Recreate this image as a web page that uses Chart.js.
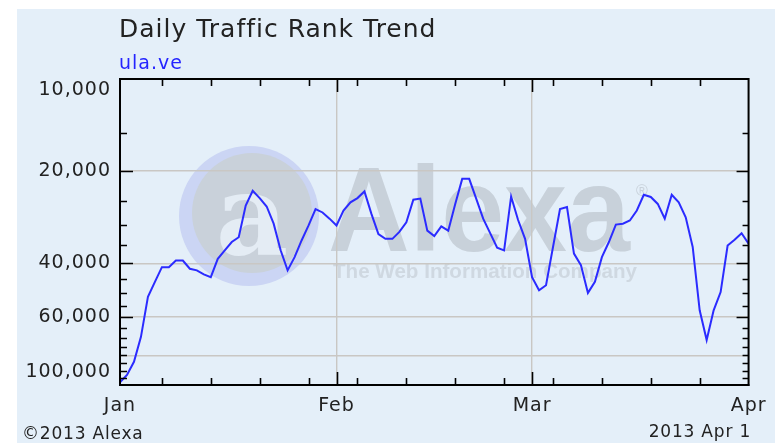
<!DOCTYPE html>
<html>
<head>
<meta charset="utf-8">
<title>Daily Traffic Rank Trend</title>
<script src="https://cdn.jsdelivr.net/npm/chart.js@4.4.1/dist/chart.umd.min.js"></script>
<style>
    html, body { margin: 0; padding: 0; background: #fff; }
    canvas { display: block; }
</style>
</head>
<body>
<canvas id="rankChart" width="775" height="443"></canvas>
<script>
// daily alexa rank, Jan 1 .. Apr 1 2013 (one value per day)
const rank = [
    98000, 92700, 84000, 69600, 51500, 46000, 41200, 41200, 39200, 39200,
    41700, 42200, 43500, 44400, 38700, 36300, 34100, 32900, 25900, 23200,
    24500, 26100, 29700, 36300, 42200, 38200, 33700, 30100, 26600, 27300,
    28600, 30100, 26900, 25300, 24500, 23300, 27600, 32100, 33300, 33300,
    31600, 29400, 24800, 24600, 31300, 32600, 30300, 31300, 25600, 21200,
    21200, 24600, 28600, 31900, 35600, 36300, 24200, 28900, 33300, 44400,
    49000, 47200, 35400, 26600, 26200, 37200, 40600, 50000, 46000, 38200,
    34100, 29900, 29700, 29000, 26900, 23900, 24300, 25600, 28600, 23900,
    25300, 28300, 35400, 57000, 71300, 57000, 49700, 35000, 33500, 31900,
    34500
];
const monthDays = [0, 31, 59, 90];
const monthLabels = ['Jan', 'Feb', 'Mar', 'Apr'];
const weekDays = [6, 13, 20, 27, 34, 41, 48, 55, 62, 69, 76, 83];
const yLabels = [10000, 20000, 40000, 60000, 100000];
const yGrid = [20000, 40000, 60000, 80000];
const yMajor = [20000, 40000, 60000];
const siteName = 'ula.ve';

const bg = '#e4eff9';
const gridColor = '#c9c7c4';
const font = "'DejaVu Sans', Verdana, sans-serif";

const alexaPlugin = {
    id: 'alexa',
    beforeDraw(chart) {
        const c = chart.ctx;
        c.save();
        c.fillStyle = '#fff';
        c.fillRect(0, 0, chart.width, chart.height);
        c.fillStyle = bg;
        c.fillRect(17, 9, chart.width - 17, chart.height - 9);

        // faint alexa watermark
        c.fillStyle = '#cbd5f4';
        c.beginPath(); c.arc(249, 216, 70, 0, Math.PI * 2); c.fill();
        c.fillStyle = '#c9d1da';
        c.beginPath(); c.arc(252, 213, 60, 0, Math.PI * 2); c.fill();
        c.fillStyle = '#e4ecf4';
        c.font = "bold 112px 'DejaVu Serif', serif";
        c.textAlign = 'center';
        c.textBaseline = 'alphabetic';
        c.fillText('a', 252, 254);

        c.fillStyle = '#c8d1da';
        c.textAlign = 'left';
        c.font = "bold 120px 'Liberation Sans', Arial, sans-serif";
        let w = c.measureText('Alexa').width;
        c.save();
        c.translate(328, 251);
        c.scale(302 / w, 1);
        c.fillText('Alexa', 0, 0);
        c.restore();
        c.font = "16px 'Liberation Sans', Arial, sans-serif";
        c.fillText('®', 636, 196);
        c.fillStyle = '#cfd8e1';
        c.font = "bold 21px 'Liberation Sans', Arial, sans-serif";
        w = c.measureText('The Web Information Company').width;
        c.save();
        c.translate(333, 278);
        c.scale(304 / w, 1);
        c.fillText('The Web Information Company', 0, 0);
        c.restore();
        c.restore();
        // verdana-like spacing for the axis labels drawn by chart.js
        c.letterSpacing = '1px';
    },
    afterDraw(chart) {
        const c = chart.ctx;
        const a = chart.chartArea;
        const xs = chart.scales.x, ys = chart.scales.y;
        c.save();
        c.strokeStyle = '#000';
        c.lineWidth = 2;
        c.strokeRect(a.left, a.top, a.right - a.left, a.bottom - a.top);

        c.lineWidth = 1.6;
        c.beginPath();
        for (let v = 15000; v < 100000; v += 5000) {
            const y = Math.round(ys.getPixelForValue(v)) + 0.5;
            const big = yMajor.indexOf(v) >= 0;
            c.moveTo(a.left, y); c.lineTo(a.left + (big ? 13 : 7), y);
            c.moveTo(a.right, y); c.lineTo(a.right - (big ? 12 : 6), y);
        }
        weekDays.forEach(function (d) {
            const x = Math.round(xs.getPixelForValue(d)) + 0.5;
            c.moveTo(x, a.bottom); c.lineTo(x, a.bottom - 7);
            c.moveTo(x, a.top); c.lineTo(x, a.top + 7);
        });
        [31, 59].forEach(function (d) {
            const x = Math.round(xs.getPixelForValue(d)) + 0.5;
            c.moveTo(x, a.bottom); c.lineTo(x, a.bottom - 13);
            c.moveTo(x, a.top); c.lineTo(x, a.top + 13);
        });
        c.stroke();

        // y labels, kept inside the frame like the original
        c.letterSpacing = '1px';
        c.fillStyle = '#222';
        c.font = '19px ' + font;
        c.textAlign = 'right';
        c.textBaseline = 'middle';
        yLabels.forEach(function (v) {
            let y = ys.getPixelForValue(v);
            y = Math.min(Math.max(y, a.top + 11), a.bottom - 13);
            c.fillText(v.toLocaleString('en-US'), 111, y);
        });

        c.textBaseline = 'alphabetic';
        c.textAlign = 'left';
        c.fillStyle = '#222';
        c.font = '25px ' + font;
        c.fillText('Daily Traffic Rank Trend', 119, 37);
        c.fillStyle = '#2424ff';
        c.font = '19px ' + font;
        c.fillText(siteName, 119, 69);
        c.letterSpacing = '0.8px';
        c.fillStyle = '#222';
        c.font = '17px ' + font;
        c.fillText('\u00a92013 Alexa', 22, 439);
        c.textAlign = 'right';
        c.fillText('2013 Apr 1', 751, 437);
        c.restore();
    }
};

new Chart(document.getElementById('rankChart'), {
    type: 'line',
    data: {
        datasets: [{
            data: rank.map(function (v, i) { return { x: i, y: v }; }),
            borderColor: '#2b2bff',
            borderWidth: 2,
            pointRadius: 0,
            tension: 0,
            fill: false
        }]
    },
    options: {
        responsive: false,
        animation: false,
        devicePixelRatio: 1,
        layout: { padding: { left: 0, right: 23, top: 79, bottom: 0 } },
        plugins: {
            legend: { display: false },
            tooltip: { enabled: false }
        },
        scales: {
            x: {
                type: 'linear',
                min: 0,
                max: 90,
                afterFit: function (s) { s.height = 58; },
                afterBuildTicks: function (s) {
                    s.ticks = monthDays.map(function (d) { return { value: d }; });
                },
                grid: {
                    drawTicks: false,
                    lineWidth: 1.4,
                    color: function (ctx) {
                        const v = ctx.tick && ctx.tick.value;
                        return (v === 31 || v === 59) ? gridColor : 'rgba(0,0,0,0)';
                    }
                },
                border: { display: true, color: '#000', width: 2 },
                ticks: {
                    padding: 10,
                    color: '#222',
                    font: { family: font, size: 19 },
                    maxRotation: 0,
                    callback: function (v) { return monthLabels[monthDays.indexOf(v)]; }
                }
            },
            y: {
                type: 'logarithmic',
                reverse: true,
                min: 10000,
                max: 100000,
                afterFit: function (s) { s.width = 120; },
                afterBuildTicks: function (s) {
                    s.ticks = yGrid.map(function (v) { return { value: v }; });
                },
                grid: {
                    drawTicks: false,
                    lineWidth: 1.4,
                    color: gridColor
                },
                border: { display: true, color: '#000', width: 2 },
                ticks: { display: false }
            }
        }
    },
    plugins: [alexaPlugin]
});
</script>
</body>
</html>
